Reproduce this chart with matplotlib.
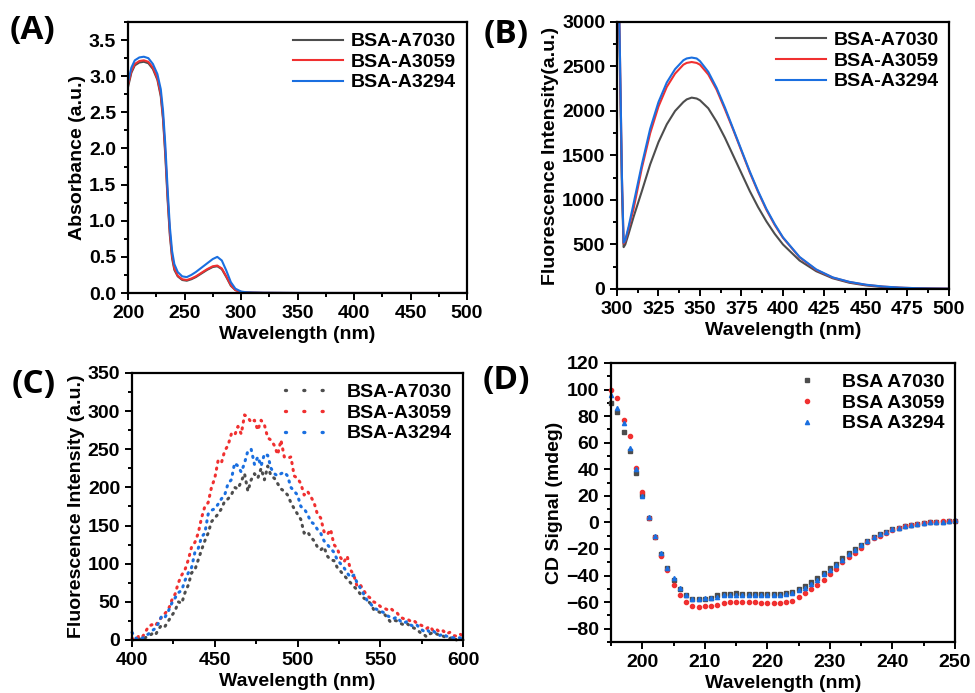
import numpy as np
import matplotlib
matplotlib.use("Agg")
import matplotlib.pyplot as plt
from matplotlib.lines import Line2D
from matplotlib.ticker import MultipleLocator

plt.rcParams['font.family'] = ['Liberation Sans', 'DejaVu Sans']
plt.rcParams['font.weight'] = 'bold'
plt.rcParams['axes.labelweight'] = 'bold'

names = ['BSA-A7030', 'BSA-A3059', 'BSA-A3294']
names_cd = ['BSA A7030', 'BSA A3059', 'BSA A3294']
colors = ['#4d4d4d', '#f03030', '#1a6fe0']

# (A) UV-vis absorbance
wl_a = [200, 203, 206, 210, 214, 218, 222, 226, 229, 231, 233, 235, 237, 239, 241, 244,
        248, 252, 256, 260, 265, 270, 275, 279, 283, 287, 291, 295, 300, 305, 310, 320,
        350, 400, 450, 500]
abs_7030 = [2.85, 3.05, 3.15, 3.19, 3.20, 3.18, 3.10, 2.95, 2.72, 2.40, 1.90, 1.30, 0.80,
            0.48, 0.32, 0.23, 0.18, 0.17, 0.19, 0.22, 0.27, 0.32, 0.36, 0.37, 0.33, 0.22,
            0.10, 0.04, 0.015, 0.008, 0.005, 0.002, 0, 0, 0, 0]
abs_3059 = [2.88, 3.07, 3.17, 3.21, 3.22, 3.20, 3.12, 2.97, 2.75, 2.43, 1.95, 1.35, 0.84,
            0.51, 0.34, 0.24, 0.19, 0.18, 0.20, 0.23, 0.28, 0.33, 0.37, 0.38, 0.34, 0.23,
            0.11, 0.04, 0.015, 0.008, 0.005, 0.002, 0, 0, 0, 0]
abs_3294 = [2.92, 3.12, 3.22, 3.26, 3.27, 3.25, 3.17, 3.03, 2.82, 2.52, 2.05, 1.45, 0.92,
            0.58, 0.40, 0.29, 0.23, 0.22, 0.25, 0.29, 0.35, 0.41, 0.47, 0.50, 0.45, 0.31,
            0.15, 0.06, 0.02, 0.01, 0.006, 0.003, 0.001, 0, 0, 0]

# (B) intrinsic fluorescence
wl_b = [300, 301, 302, 303, 304, 305, 307, 310, 315, 320, 325, 330, 335, 340, 342, 345,
        348, 350, 355, 360, 365, 370, 375, 380, 385, 390, 395, 400, 410, 420, 430, 440,
        450, 460, 470, 480, 490, 500]
fl_7030 = [4200, 3300, 2200, 1100, 470, 500, 620, 810, 1100, 1400, 1650, 1850, 2000, 2100,
           2130, 2150, 2140, 2120, 2030, 1880, 1700, 1500, 1300, 1100, 920, 760, 620, 500,
           320, 200, 120, 70, 40, 22, 12, 7, 4, 2]
fl_3059 = [4400, 3500, 2400, 1250, 510, 540, 680, 900, 1360, 1750, 2050, 2270, 2420, 2520,
           2540, 2550, 2540, 2520, 2410, 2240, 2020, 1790, 1550, 1310, 1090, 890, 720, 575,
           355, 215, 128, 78, 46, 27, 15, 9, 5, 3]
fl_3294 = [4400, 3500, 2400, 1250, 520, 550, 700, 960, 1400, 1800, 2100, 2320, 2470, 2570,
           2590, 2600, 2590, 2560, 2440, 2260, 2040, 1800, 1560, 1320, 1100, 900, 730, 580,
           360, 220, 130, 80, 48, 28, 16, 9, 5, 3]

# (C) fluorescence, 400-600 nm every 2 nm
wl_c = np.arange(400, 601, 2)
fc_7030 = [0, 0, 2, 0, 3, 5, 8, 6, 14, 20, 18, 25, 32, 38, 50, 48, 62, 72, 88, 92,
           105, 118, 130, 140, 155, 160, 165, 172, 182, 185, 190, 200, 198, 208, 218, 195, 210, 218, 212, 225,
           210, 228, 215, 212, 205, 198, 195, 190, 180, 172, 165, 158, 140, 142, 135, 130, 122, 118, 122, 110,
           105, 104, 95, 90, 85, 80, 75, 70, 66, 60, 55, 52, 48, 40, 38, 36, 35, 30, 24, 26,
           25, 22, 20, 22, 18, 16, 14, 10, 8, 4, 8, 10, 8, 6, 5, 3, 2, 4, 0, 2, 0]
fc_3059 = [2, 0, 5, 3, 10, 18, 20, 18, 25, 30, 35, 40, 52, 60, 75, 85, 92, 105, 122, 128,
           140, 160, 175, 180, 200, 212, 235, 232, 248, 255, 270, 268, 280, 270, 295, 292, 285, 288, 275, 288,
           282, 265, 262, 255, 243, 262, 240, 238, 240, 215, 212, 205, 190, 195, 188, 180, 165, 160, 142, 138,
           145, 125, 120, 108, 102, 110, 92, 85, 70, 72, 65, 58, 55, 50, 48, 44, 42, 40, 42, 38,
           36, 30, 28, 28, 25, 26, 22, 20, 18, 15, 18, 12, 14, 10, 12, 8, 10, 6, 5, 8, 5]
fc_3294 = [10, 3, 0, 2, 5, 8, 12, 15, 22, 32, 30, 38, 48, 55, 62, 65, 78, 88, 95, 115,
           120, 135, 140, 165, 170, 172, 178, 185, 190, 205, 210, 232, 228, 220, 232, 248, 250, 230, 240, 228,
           244, 242, 225, 218, 215, 218, 220, 215, 200, 195, 190, 175, 172, 165, 155, 152, 145, 140, 130, 125,
           120, 115, 105, 100, 95, 88, 82, 85, 75, 68, 60, 52, 48, 42, 40, 38, 36, 32, 30, 28,
           30, 25, 22, 24, 20, 18, 20, 15, 12, 14, 10, 12, 8, 6, 8, 5, 4, 3, 2, 3, 1]

# (D) circular dichroism, 195-250 nm every 1 nm
wl_d = np.arange(195, 251, 1)
cd_7030 = [90, 83, 68, 54, 37, 21, 3, -11, -24, -34, -43, -50, -55, -58, -58, -58, -57, -55, -54, -54,
           -53, -54, -54, -54, -54, -54, -54, -54, -53, -52, -50, -48, -45, -42, -38, -34, -31, -27, -23, -20,
           -17, -14, -11, -9, -7, -5, -4, -3, -2, -1, -0.5, 0, 0.5, 0.5, 1, 1]
cd_3059 = [100, 94, 77, 65, 41, 23, 3, -11, -25, -36, -47, -55, -60, -63, -64, -63, -63, -62, -61, -60,
           -60, -60, -60, -60, -61, -61, -61, -61, -60, -59, -56, -53, -50, -47, -43, -39, -35, -30, -26, -23,
           -19, -15, -12, -10, -8, -6, -4, -3, -2, -1, -0.5, 0, 0.5, 1, 1, 1]
cd_3294 = [96, 86, 75, 56, 40, 20, 4, -10, -23, -34, -42, -49, -55, -58, -58, -57, -57, -56, -55, -55,
           -55, -55, -55, -55, -55, -55, -55, -55, -54, -53, -51, -49, -46, -43, -39, -36, -32, -28, -24, -21,
           -17, -14, -11, -9, -7, -5, -4, -3, -2, -1, -0.5, 0, 0.5, 0.5, 1, 1.5]

fig = plt.figure(figsize=(9.75, 6.93), dpi=100)
axA = fig.add_axes([0.1313, 0.5772, 0.3477, 0.391])
axB = fig.add_axes([0.6328, 0.583, 0.3405, 0.3853])
axC = fig.add_axes([0.1354, 0.0765, 0.3395, 0.3853])
axD = fig.add_axes([0.6267, 0.0736, 0.3528, 0.4026])


def style(ax):
    for s in ax.spines.values():
        s.set_linewidth(1.6)
    ax.tick_params(which='both', direction='out', width=1.4, labelsize=14,
                   top=False, right=False)
    ax.tick_params(which='major', length=5)
    ax.tick_params(which='minor', length=3)
    for lab in ax.get_xticklabels() + ax.get_yticklabels():
        lab.set_fontweight('bold')


# A
for y, c, n in zip([abs_7030, abs_3059, abs_3294], colors, names):
    axA.plot(wl_a, y, color=c, lw=1.5, label=n)
axA.set_xlim(200, 500)
axA.set_ylim(0, 3.75)
axA.xaxis.set_major_locator(MultipleLocator(50))
axA.xaxis.set_minor_locator(MultipleLocator(25))
axA.yaxis.set_major_locator(MultipleLocator(0.5))
axA.yaxis.set_minor_locator(MultipleLocator(0.25))
axA.set_xlabel('Wavelength (nm)', fontsize=14, labelpad=3)
axA.set_ylabel('Absorbance (a.u.)', fontsize=14, labelpad=2)
axA.legend(loc='upper right', frameon=False, fontsize=14, handlelength=2.6,
           handletextpad=0.4, labelspacing=0.15, borderaxespad=0.15)
style(axA)

# B
for y, c, n in zip([fl_7030, fl_3059, fl_3294], colors, names):
    axB.plot(wl_b, y, color=c, lw=1.5, label=n)
axB.set_xlim(300, 500)
axB.set_ylim(0, 3000)
axB.xaxis.set_major_locator(MultipleLocator(25))
axB.xaxis.set_minor_locator(MultipleLocator(12.5))
axB.yaxis.set_major_locator(MultipleLocator(500))
axB.yaxis.set_minor_locator(MultipleLocator(250))
axB.set_xlabel('Wavelength (nm)', fontsize=14, labelpad=3)
axB.set_ylabel('Fluorescence Intensity(a.u.)', fontsize=14, labelpad=2)
axB.legend(loc='upper right', frameon=False, fontsize=14, handlelength=2.6,
           handletextpad=0.4, labelspacing=0.15, borderaxespad=0.1)
style(axB)

# C
for y, c in zip([fc_7030, fc_3059, fc_3294], colors):
    axC.plot(wl_c, y, color=c, lw=2.2, linestyle=(0, (0.4, 1.9)),
             dash_capstyle='round', clip_on=False)
handles = [Line2D([], [], color=c, lw=2.4, linestyle=(0, (0.3, 5.2)),
                  dash_capstyle='round') for c in colors]
axC.legend(handles, names, loc='upper right', frameon=False, fontsize=14,
           handlelength=2.6, handletextpad=0.6, labelspacing=0.15, borderaxespad=0.15)
axC.set_xlim(400, 600)
axC.set_ylim(0, 350)
axC.xaxis.set_major_locator(MultipleLocator(50))
axC.xaxis.set_minor_locator(MultipleLocator(25))
axC.yaxis.set_major_locator(MultipleLocator(50))
axC.yaxis.set_minor_locator(MultipleLocator(25))
axC.set_xlabel('Wavelength (nm)', fontsize=14, labelpad=3)
axC.set_ylabel('Fluorescence Intensity (a.u.)', fontsize=14, labelpad=2)
style(axC)

# D
markers = ['s', 'o', '^']
for y, c, m, n in zip([cd_7030, cd_3059, cd_3294], colors, markers, names_cd):
    axD.plot(wl_d, y, linestyle='none', marker=m, ms=3.0, color=c, mec=c,
             label=n, clip_on=False)
axD.set_xlim(195, 250)
axD.set_ylim(-90, 120)
axD.xaxis.set_major_locator(MultipleLocator(10))
axD.xaxis.set_minor_locator(MultipleLocator(5))
axD.yaxis.set_major_locator(MultipleLocator(20))
axD.yaxis.set_minor_locator(MultipleLocator(10))
axD.set_xlabel('Wavelength (nm)', fontsize=14, labelpad=3)
axD.set_ylabel('CD Signal (mdeg)', fontsize=14, labelpad=2)
axD.legend(loc='upper right', frameon=False, fontsize=14, handlelength=2.0,
           handletextpad=0.8, labelspacing=0.15, borderaxespad=0.15, markerscale=1.0)
style(axD)

panel_font = dict(fontsize=24, fontweight='bold', family=['Open Sans', 'DejaVu Sans'],
                  ha='left', va='center')
fig.text(10 / 975, 1 - 30 / 693, '(A)', **panel_font)
fig.text(484 / 975, 1 - 35 / 693, '(B)', **panel_font)
fig.text(12 / 975, 1 - 385 / 693, '(C)', **panel_font)
fig.text(483 / 975, 1 - 380 / 693, '(D)', **panel_font)

fig.savefig('out.png', dpi=100)
